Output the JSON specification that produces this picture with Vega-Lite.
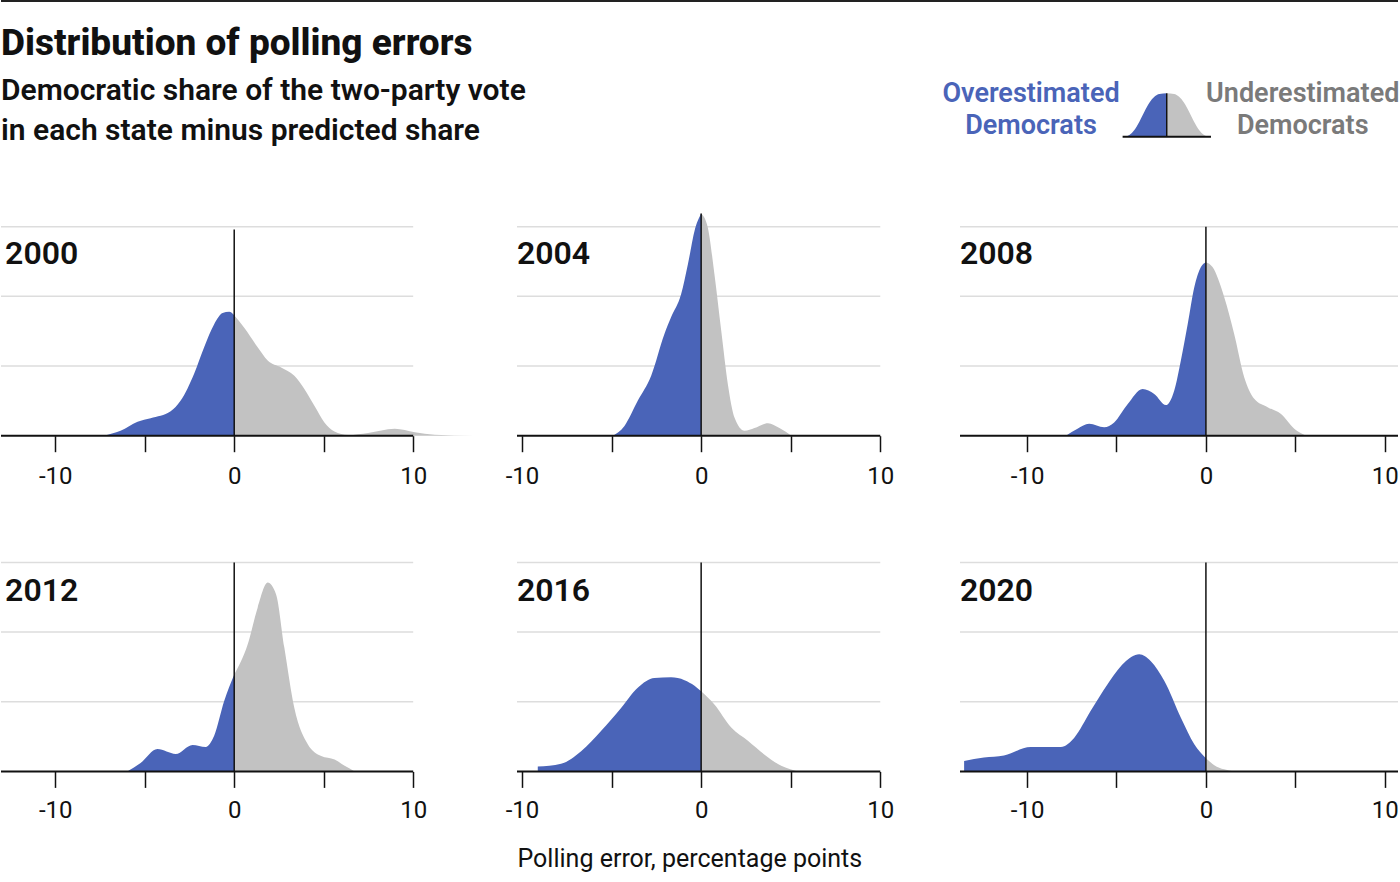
{
  "$schema": "https://vega.github.io/schema/vega-lite/v6.json",
  "padding": 0,
  "background": "white",
  "config": {
    "view": {"stroke": null},
    "font": "Roboto",
    "axis": {"labels": false, "ticks": false, "domain": false, "grid": false}
  },
  "datasets": {
    "levels": [{"level": 1}, {"level": 2}, {"level": 3}],
    "panels": [{"year": "2000"}, {"year": "2004"}, {"year": "2008"}, {"year": "2012"}, {"year": "2016"}, {"year": "2020"}],
    "legendcurve": [
      {"x": -2.8, "y": 0}, {"x": -2.54, "y": 0.04}, {"x": -2.2, "y": 0.154}, {"x": -1.86, "y": 0.346},
      {"x": -1.52, "y": 0.576}, {"x": -1.18, "y": 0.783}, {"x": -0.84, "y": 0.922}, {"x": -0.5, "y": 0.984},
      {"x": 0, "y": 1}, {"x": 0.5, "y": 0.984}, {"x": 0.84, "y": 0.922}, {"x": 1.18, "y": 0.783},
      {"x": 1.52, "y": 0.576}, {"x": 1.86, "y": 0.346}, {"x": 2.2, "y": 0.154}, {"x": 2.54, "y": 0.04}, {"x": 2.8, "y": 0}
    ],
    "curves": [
      {"year": "2000", "x": -7.3, "y": 0}, {"year": "2000", "x": -6.35, "y": 0.07}, {"year": "2000", "x": -5.4, "y": 0.2},
      {"year": "2000", "x": -4.67, "y": 0.25}, {"year": "2000", "x": -3.55, "y": 0.35}, {"year": "2000", "x": -3.0, "y": 0.5},
      {"year": "2000", "x": -2.24, "y": 0.89}, {"year": "2000", "x": -1.68, "y": 1.27}, {"year": "2000", "x": -1.12, "y": 1.6},
      {"year": "2000", "x": -0.65, "y": 1.76}, {"year": "2000", "x": -0.28, "y": 1.78}, {"year": "2000", "x": 0, "y": 1.73},
      {"year": "2000", "x": 0.56, "y": 1.55}, {"year": "2000", "x": 1.31, "y": 1.27}, {"year": "2000", "x": 1.87, "y": 1.08},
      {"year": "2000", "x": 2.62, "y": 0.98}, {"year": "2000", "x": 3.36, "y": 0.86}, {"year": "2000", "x": 3.92, "y": 0.67},
      {"year": "2000", "x": 4.48, "y": 0.43}, {"year": "2000", "x": 5.04, "y": 0.19}, {"year": "2000", "x": 5.6, "y": 0.06},
      {"year": "2000", "x": 6.36, "y": 0.01}, {"year": "2000", "x": 7.48, "y": 0.04}, {"year": "2000", "x": 8.97, "y": 0.1},
      {"year": "2000", "x": 10.09, "y": 0.05}, {"year": "2000", "x": 11.2, "y": 0.015}, {"year": "2000", "x": 13.4, "y": 0},

      {"year": "2004", "x": -4.93, "y": 0}, {"year": "2004", "x": -4.28, "y": 0.14}, {"year": "2004", "x": -3.54, "y": 0.5},
      {"year": "2004", "x": -2.79, "y": 0.86}, {"year": "2004", "x": -2.05, "y": 1.46}, {"year": "2004", "x": -1.68, "y": 1.7},
      {"year": "2004", "x": -1.12, "y": 2.03}, {"year": "2004", "x": -0.74, "y": 2.46}, {"year": "2004", "x": -0.37, "y": 2.94},
      {"year": "2004", "x": 0, "y": 3.19}, {"year": "2004", "x": 0.37, "y": 2.99}, {"year": "2004", "x": 0.74, "y": 2.32},
      {"year": "2004", "x": 1.12, "y": 1.51}, {"year": "2004", "x": 1.49, "y": 0.74}, {"year": "2004", "x": 1.86, "y": 0.26},
      {"year": "2004", "x": 2.42, "y": 0.07}, {"year": "2004", "x": 2.98, "y": 0.11}, {"year": "2004", "x": 3.73, "y": 0.18},
      {"year": "2004", "x": 4.37, "y": 0.11}, {"year": "2004", "x": 5.03, "y": 0},

      {"year": "2008", "x": -7.83, "y": 0}, {"year": "2008", "x": -7.18, "y": 0.1}, {"year": "2008", "x": -6.53, "y": 0.17},
      {"year": "2008", "x": -5.69, "y": 0.12}, {"year": "2008", "x": -5.13, "y": 0.19}, {"year": "2008", "x": -4.38, "y": 0.45},
      {"year": "2008", "x": -3.54, "y": 0.67}, {"year": "2008", "x": -2.89, "y": 0.6}, {"year": "2008", "x": -2.24, "y": 0.44},
      {"year": "2008", "x": -1.77, "y": 0.65}, {"year": "2008", "x": -1.4, "y": 1.08}, {"year": "2008", "x": -1.02, "y": 1.6},
      {"year": "2008", "x": -0.65, "y": 2.13}, {"year": "2008", "x": -0.28, "y": 2.42}, {"year": "2008", "x": 0, "y": 2.49},
      {"year": "2008", "x": 0.37, "y": 2.42}, {"year": "2008", "x": 1.02, "y": 1.99}, {"year": "2008", "x": 1.58, "y": 1.46},
      {"year": "2008", "x": 2.14, "y": 0.84}, {"year": "2008", "x": 2.7, "y": 0.53}, {"year": "2008", "x": 3.45, "y": 0.41},
      {"year": "2008", "x": 4.2, "y": 0.31}, {"year": "2008", "x": 4.94, "y": 0.1}, {"year": "2008", "x": 5.6, "y": 0},

      {"year": "2012", "x": -5.98, "y": 0}, {"year": "2012", "x": -5.23, "y": 0.12}, {"year": "2012", "x": -4.29, "y": 0.32},
      {"year": "2012", "x": -3.27, "y": 0.25}, {"year": "2012", "x": -2.33, "y": 0.38}, {"year": "2012", "x": -1.59, "y": 0.35},
      {"year": "2012", "x": -1.12, "y": 0.51}, {"year": "2012", "x": -0.56, "y": 1.01}, {"year": "2012", "x": 0, "y": 1.39},
      {"year": "2012", "x": 0.75, "y": 1.82}, {"year": "2012", "x": 1.31, "y": 2.35}, {"year": "2012", "x": 1.87, "y": 2.71},
      {"year": "2012", "x": 2.34, "y": 2.54}, {"year": "2012", "x": 2.8, "y": 1.78}, {"year": "2012", "x": 3.36, "y": 0.91},
      {"year": "2012", "x": 4.11, "y": 0.39}, {"year": "2012", "x": 4.86, "y": 0.22}, {"year": "2012", "x": 5.61, "y": 0.17},
      {"year": "2012", "x": 6.17, "y": 0.08}, {"year": "2012", "x": 6.73, "y": 0},

      {"year": "2016", "x": -9.12, "y": 0.07}, {"year": "2016", "x": -7.82, "y": 0.11}, {"year": "2016", "x": -6.7, "y": 0.29},
      {"year": "2016", "x": -5.59, "y": 0.58}, {"year": "2016", "x": -4.47, "y": 0.91}, {"year": "2016", "x": -3.54, "y": 1.2},
      {"year": "2016", "x": -2.61, "y": 1.34}, {"year": "2016", "x": -1.68, "y": 1.35}, {"year": "2016", "x": -0.93, "y": 1.31},
      {"year": "2016", "x": -0.37, "y": 1.23}, {"year": "2016", "x": 0, "y": 1.15}, {"year": "2016", "x": 0.74, "y": 0.96},
      {"year": "2016", "x": 1.68, "y": 0.63}, {"year": "2016", "x": 2.61, "y": 0.44}, {"year": "2016", "x": 3.54, "y": 0.24},
      {"year": "2016", "x": 4.47, "y": 0.08}, {"year": "2016", "x": 5.4, "y": 0},

      {"year": "2020", "x": -13.52, "y": 0.15}, {"year": "2020", "x": -12.41, "y": 0.2}, {"year": "2020", "x": -11.29, "y": 0.23},
      {"year": "2020", "x": -9.79, "y": 0.35}, {"year": "2020", "x": -8.86, "y": 0.35}, {"year": "2020", "x": -8.11, "y": 0.35},
      {"year": "2020", "x": -7.37, "y": 0.48}, {"year": "2020", "x": -6.44, "y": 0.87}, {"year": "2020", "x": -5.5, "y": 1.25},
      {"year": "2020", "x": -4.57, "y": 1.56}, {"year": "2020", "x": -3.73, "y": 1.68}, {"year": "2020", "x": -3.08, "y": 1.58},
      {"year": "2020", "x": -2.33, "y": 1.3}, {"year": "2020", "x": -1.4, "y": 0.77}, {"year": "2020", "x": -0.65, "y": 0.39},
      {"year": "2020", "x": 0, "y": 0.19}, {"year": "2020", "x": 0.47, "y": 0.09}, {"year": "2020", "x": 1.02, "y": 0.03},
      {"year": "2020", "x": 1.58, "y": 0}
    ]
  },
  "columns": 3,
  "bounds": "flush",
  "spacing": {"row": 126.7, "column": 0},
  "resolve": {"scale": {"x": "independent", "y": "independent"}},
  "concat": [
    {
      "width": 516, "height": 98.3,
      "layer": [
        {"data": {"values": [{"label": "Distribution of polling errors"}]},
         "mark": {"type": "rule", "color": "#222", "strokeWidth": 2},
         "encoding": {"x": {"datum": 0, "scale": {"domain": [0, 1]}, "axis": null}, "x2": {"datum": 1}, "y": {"datum": 1, "scale": {"domain": [0, 1]}, "axis": null}}},
        {"data": {"values": [{"label": "Distribution of polling errors"}]},
         "mark": {"type": "text", "align": "left", "baseline": "alphabetic", "font": "Roboto", "fontSize": 37, "fontWeight": 800, "color": "#111"},
         "encoding": {"x": {"datum": 0, "axis": null}, "y": {"datum": 0.4507, "axis": null}, "text": {"field": "label", "type": "nominal"}}},
        {"data": {"values": [{"label": ["Democratic share of the two-party vote", "in each state minus predicted share"]}]},
         "mark": {"type": "text", "align": "left", "baseline": "alphabetic", "font": "Roboto", "fontSize": 30, "fontWeight": 600, "lineHeight": 40, "color": "#111"},
         "encoding": {"x": {"datum": 0, "axis": null}, "y": {"datum": -0.0071, "axis": null}, "text": {"field": "label", "type": "nominal"}}}
      ]
    },
    {
      "width": 443, "height": 98.3,
      "data": {"values": [{"label": "rule"}]},
      "mark": {"type": "rule", "color": "#222", "strokeWidth": 2},
      "encoding": {"x": {"datum": 0, "scale": {"domain": [0, 1]}, "axis": null}, "x2": {"datum": 1}, "y": {"datum": 1, "scale": {"domain": [0, 1]}, "axis": null}}
    },
    {
      "width": 438, "height": 98.3,
      "layer": [
        {"data": {"values": [{"label": "rule"}]},
         "mark": {"type": "rule", "color": "#222", "strokeWidth": 2},
         "encoding": {"x": {"datum": -14.06, "axis": null}, "x2": {"datum": 15.73}, "y": {"datum": 3.127, "axis": null}}},
        {"data": {"name": "legendcurve"},
         "transform": [{"filter": "datum.x <= 0"}],
         "mark": {"type": "area", "color": "#4a64b8", "interpolate": "monotone"},
         "encoding": {
           "x": {"field": "x", "type": "quantitative", "scale": {"domain": [-14.06, 15.73], "nice": false, "zero": false}, "axis": null},
           "y": {"field": "y", "type": "quantitative", "scale": {"domain": [0.862, 3.127], "nice": false, "zero": false}, "axis": null}}},
        {"data": {"name": "legendcurve"},
         "transform": [{"filter": "datum.x >= 0"}],
         "mark": {"type": "area", "color": "#c2c2c2", "interpolate": "monotone"},
         "encoding": {
           "x": {"field": "x", "type": "quantitative", "axis": null},
           "y": {"field": "y", "type": "quantitative", "axis": null}}},
        {"data": {"values": [{"label": "rule"}]},
         "mark": {"type": "rule", "color": "#111", "strokeWidth": 2},
         "encoding": {"x": {"datum": -3.0, "axis": null}, "x2": {"datum": 3.01}, "y": {"datum": 0, "axis": null}}},
        {"data": {"values": [{"label": "rule"}]},
         "mark": {"type": "rule", "color": "#111", "strokeWidth": 1.5},
         "encoding": {"x": {"datum": 0, "axis": null}, "y": {"datum": 0, "axis": null}, "y2": {"datum": 1}}},
        {"data": {"values": [{"label": ["Overestimated", "Democrats"]}]},
         "mark": {"type": "text", "align": "center", "baseline": "alphabetic", "font": "Roboto", "fontSize": 27, "fontWeight": 600, "lineHeight": 32.3, "color": "#4a64b8"},
         "encoding": {"x": {"datum": -9.23, "axis": null}, "y": {"datum": 0.8065, "axis": null}, "text": {"field": "label", "type": "nominal"}}},
        {"data": {"values": [{"label": ["Underestimated", "Democrats"]}]},
         "mark": {"type": "text", "align": "center", "baseline": "alphabetic", "font": "Roboto", "fontSize": 27, "fontWeight": 600, "lineHeight": 32.3, "color": "#7a7a7a"},
         "encoding": {"x": {"datum": 9.25, "axis": null}, "y": {"datum": 0.8065, "axis": null}, "text": {"field": "label", "type": "nominal"}}}
      ]
    },
    {
      "width": 516, "height": 209,
      "resolve": {"axis": {"x": "independent"}},
      "layer": [
        {"data": {"name": "levels"}, "mark": {"type": "rule", "color": "#dddddd", "strokeWidth": 1.5},
         "encoding": {"x": {"datum": -13.03, "axis": null}, "x2": {"datum": 10}, "y": {"field": "level", "type": "quantitative", "axis": null}}},
        {"data": {"name": "curves"}, "transform": [{"filter": "datum.year === '2000' && datum.x <= 0"}],
         "mark": {"type": "area", "color": "#4a64b8", "interpolate": "monotone"},
         "encoding": {
           "x": {"field": "x", "type": "quantitative", "scale": {"domain": [-13.03, 15.8], "nice": false, "zero": false},
                 "axis": {"orient": "bottom", "values": [-10, -5, 0, 5, 10], "domain": false, "grid": false, "ticks": true, "labels": true, "tickSize": 16, "tickWidth": 1.5, "tickColor": "#111",
                          "labelExpr": "datum.value === -10 ? '-10\u00a0\u00a0\u00a0' : datum.value % 10 === 0 ? '' + datum.value : ''", "labelFont": "Roboto", "labelFontSize": 24, "labelColor": "#111",
                          "labelPadding": 13, "labelFlush": false, "labelOverlap": false, "title": null}},
           "y": {"field": "y", "type": "quantitative", "scale": {"domain": [0, 3], "nice": false, "zero": false}, "axis": null}}},
        {"data": {"name": "curves"}, "transform": [{"filter": "datum.year === '2000' && datum.x >= 0"}],
         "mark": {"type": "area", "color": "#c2c2c2", "interpolate": "monotone"},
         "encoding": {"x": {"field": "x", "type": "quantitative", "axis": null}, "y": {"field": "y", "type": "quantitative", "axis": null}}},
        {"data": {"name": "panels"}, "transform": [{"filter": "datum.year === '2000'"}],
         "mark": {"type": "rule", "color": "#111", "strokeWidth": 2},
         "encoding": {"x": {"datum": -13.03, "axis": null}, "x2": {"datum": 10}, "y": {"datum": 0, "axis": null}}},
        {"data": {"name": "panels"}, "transform": [{"filter": "datum.year === '2000'"}],
         "mark": {"type": "rule", "color": "#111", "strokeWidth": 1.5},
         "encoding": {"x": {"datum": 0, "axis": null}, "y": {"datum": 0, "axis": null}, "y2": {"datum": 2.96}}},
        {"data": {"name": "panels"}, "transform": [{"filter": "datum.year === '2000'"}],
         "mark": {"type": "text", "align": "left", "baseline": "alphabetic", "font": "Roboto", "fontSize": 32, "fontWeight": 600, "color": "#111"},
         "encoding": {"x": {"datum": -12.8, "axis": null}, "y": {"datum": 2.47, "axis": null}, "text": {"field": "year", "type": "nominal"}}}
      ]
    },
    {
      "width": 443, "height": 209,
      "resolve": {"axis": {"x": "independent"}},
      "layer": [
        {"data": {"name": "levels"}, "mark": {"type": "rule", "color": "#dddddd", "strokeWidth": 1.5},
         "encoding": {"x": {"datum": -10.28, "axis": null}, "x2": {"datum": 10}, "y": {"field": "level", "type": "quantitative", "axis": null}}},
        {"data": {"name": "curves"}, "transform": [{"filter": "datum.year === '2004' && datum.x <= 0"}],
         "mark": {"type": "area", "color": "#4a64b8", "interpolate": "monotone"},
         "encoding": {
           "x": {"field": "x", "type": "quantitative", "scale": {"domain": [-10.28, 14.45], "nice": false, "zero": false},
                 "axis": {"orient": "bottom", "values": [-10, -5, 0, 5, 10], "domain": false, "grid": false, "ticks": true, "labels": true, "tickSize": 16, "tickWidth": 1.5, "tickColor": "#111",
                          "labelExpr": "datum.value === -10 ? '-10\u00a0\u00a0\u00a0' : datum.value % 10 === 0 ? '' + datum.value : ''", "labelFont": "Roboto", "labelFontSize": 24, "labelColor": "#111",
                          "labelPadding": 13, "labelFlush": false, "labelOverlap": false, "title": null}},
           "y": {"field": "y", "type": "quantitative", "scale": {"domain": [0, 3], "nice": false, "zero": false}, "axis": null}}},
        {"data": {"name": "curves"}, "transform": [{"filter": "datum.year === '2004' && datum.x >= 0"}],
         "mark": {"type": "area", "color": "#c2c2c2", "interpolate": "monotone"},
         "encoding": {"x": {"field": "x", "type": "quantitative", "axis": null}, "y": {"field": "y", "type": "quantitative", "axis": null}}},
        {"data": {"name": "panels"}, "transform": [{"filter": "datum.year === '2004'"}],
         "mark": {"type": "rule", "color": "#111", "strokeWidth": 2},
         "encoding": {"x": {"datum": -10.28, "axis": null}, "x2": {"datum": 10}, "y": {"datum": 0, "axis": null}}},
        {"data": {"name": "panels"}, "transform": [{"filter": "datum.year === '2004'"}],
         "mark": {"type": "rule", "color": "#111", "strokeWidth": 1.5},
         "encoding": {"x": {"datum": 0, "axis": null}, "y": {"datum": 0, "axis": null}, "y2": {"datum": 3.19}}},
        {"data": {"name": "panels"}, "transform": [{"filter": "datum.year === '2004'"}],
         "mark": {"type": "text", "align": "left", "baseline": "alphabetic", "font": "Roboto", "fontSize": 32, "fontWeight": 600, "color": "#111"},
         "encoding": {"x": {"datum": -10.28, "axis": null}, "y": {"datum": 2.47, "axis": null}, "text": {"field": "year", "type": "nominal"}}}
      ]
    },
    {
      "width": 438, "height": 209,
      "resolve": {"axis": {"x": "independent"}},
      "layer": [
        {"data": {"name": "levels"}, "mark": {"type": "rule", "color": "#dddddd", "strokeWidth": 1.5},
         "encoding": {"x": {"datum": -13.75, "axis": null}, "x2": {"datum": 10.74}, "y": {"field": "level", "type": "quantitative", "axis": null}}},
        {"data": {"name": "curves"}, "transform": [{"filter": "datum.year === '2008' && datum.x <= 0"}],
         "mark": {"type": "area", "color": "#4a64b8", "interpolate": "monotone"},
         "encoding": {
           "x": {"field": "x", "type": "quantitative", "scale": {"domain": [-13.75, 10.74], "nice": false, "zero": false},
                 "axis": {"orient": "bottom", "values": [-10, -5, 0, 5, 10], "domain": false, "grid": false, "ticks": true, "labels": true, "tickSize": 16, "tickWidth": 1.5, "tickColor": "#111",
                          "labelExpr": "datum.value === -10 ? '-10\u00a0\u00a0\u00a0' : datum.value % 10 === 0 ? '' + datum.value : ''", "labelFont": "Roboto", "labelFontSize": 24, "labelColor": "#111",
                          "labelPadding": 13, "labelFlush": false, "labelOverlap": false, "title": null}},
           "y": {"field": "y", "type": "quantitative", "scale": {"domain": [0, 3], "nice": false, "zero": false}, "axis": null}}},
        {"data": {"name": "curves"}, "transform": [{"filter": "datum.year === '2008' && datum.x >= 0"}],
         "mark": {"type": "area", "color": "#c2c2c2", "interpolate": "monotone"},
         "encoding": {"x": {"field": "x", "type": "quantitative", "axis": null}, "y": {"field": "y", "type": "quantitative", "axis": null}}},
        {"data": {"name": "panels"}, "transform": [{"filter": "datum.year === '2008'"}],
         "mark": {"type": "rule", "color": "#111", "strokeWidth": 2},
         "encoding": {"x": {"datum": -13.75, "axis": null}, "x2": {"datum": 10.74}, "y": {"datum": 0, "axis": null}}},
        {"data": {"name": "panels"}, "transform": [{"filter": "datum.year === '2008'"}],
         "mark": {"type": "rule", "color": "#111", "strokeWidth": 1.5},
         "encoding": {"x": {"datum": 0, "axis": null}, "y": {"datum": 0, "axis": null}, "y2": {"datum": 3}}},
        {"data": {"name": "panels"}, "transform": [{"filter": "datum.year === '2008'"}],
         "mark": {"type": "text", "align": "left", "baseline": "alphabetic", "font": "Roboto", "fontSize": 32, "fontWeight": 600, "color": "#111"},
         "encoding": {"x": {"datum": -13.75, "axis": null}, "y": {"datum": 2.47, "axis": null}, "text": {"field": "year", "type": "nominal"}}}
      ]
    },
    {
      "width": 516, "height": 209,
      "resolve": {"axis": {"x": "independent"}},
      "layer": [
        {"data": {"name": "levels"}, "mark": {"type": "rule", "color": "#dddddd", "strokeWidth": 1.5},
         "encoding": {"x": {"datum": -13.03, "axis": null}, "x2": {"datum": 10}, "y": {"field": "level", "type": "quantitative", "axis": null}}},
        {"data": {"name": "curves"}, "transform": [{"filter": "datum.year === '2012' && datum.x <= 0"}],
         "mark": {"type": "area", "color": "#4a64b8", "interpolate": "monotone"},
         "encoding": {
           "x": {"field": "x", "type": "quantitative", "scale": {"domain": [-13.03, 15.8], "nice": false, "zero": false},
                 "axis": {"orient": "bottom", "values": [-10, -5, 0, 5, 10], "domain": false, "grid": false, "ticks": true, "labels": true, "tickSize": 16, "tickWidth": 1.5, "tickColor": "#111",
                          "labelExpr": "datum.value === -10 ? '-10\u00a0\u00a0\u00a0' : datum.value % 10 === 0 ? '' + datum.value : ''", "labelFont": "Roboto", "labelFontSize": 24, "labelColor": "#111",
                          "labelPadding": 11, "labelFlush": false, "labelOverlap": false, "title": null}},
           "y": {"field": "y", "type": "quantitative", "scale": {"domain": [0, 3], "nice": false, "zero": false}, "axis": null}}},
        {"data": {"name": "curves"}, "transform": [{"filter": "datum.year === '2012' && datum.x >= 0"}],
         "mark": {"type": "area", "color": "#c2c2c2", "interpolate": "monotone"},
         "encoding": {"x": {"field": "x", "type": "quantitative", "axis": null}, "y": {"field": "y", "type": "quantitative", "axis": null}}},
        {"data": {"name": "panels"}, "transform": [{"filter": "datum.year === '2012'"}],
         "mark": {"type": "rule", "color": "#111", "strokeWidth": 2},
         "encoding": {"x": {"datum": -13.03, "axis": null}, "x2": {"datum": 10}, "y": {"datum": 0, "axis": null}}},
        {"data": {"name": "panels"}, "transform": [{"filter": "datum.year === '2012'"}],
         "mark": {"type": "rule", "color": "#111", "strokeWidth": 1.5},
         "encoding": {"x": {"datum": 0, "axis": null}, "y": {"datum": 0, "axis": null}, "y2": {"datum": 3}}},
        {"data": {"name": "panels"}, "transform": [{"filter": "datum.year === '2012'"}],
         "mark": {"type": "text", "align": "left", "baseline": "alphabetic", "font": "Roboto", "fontSize": 32, "fontWeight": 600, "color": "#111"},
         "encoding": {"x": {"datum": -12.8, "axis": null}, "y": {"datum": 2.45, "axis": null}, "text": {"field": "year", "type": "nominal"}}}
      ]
    },
    {
      "width": 443, "height": 209,
      "resolve": {"axis": {"x": "independent"}},
      "layer": [
        {"data": {"name": "levels"}, "mark": {"type": "rule", "color": "#dddddd", "strokeWidth": 1.5},
         "encoding": {"x": {"datum": -10.28, "axis": null}, "x2": {"datum": 10}, "y": {"field": "level", "type": "quantitative", "axis": null}}},
        {"data": {"name": "curves"}, "transform": [{"filter": "datum.year === '2016' && datum.x <= 0"}],
         "mark": {"type": "area", "color": "#4a64b8", "interpolate": "monotone"},
         "encoding": {
           "x": {"field": "x", "type": "quantitative", "scale": {"domain": [-10.28, 14.45], "nice": false, "zero": false},
                 "axis": {"orient": "bottom", "values": [-10, -5, 0, 5, 10], "domain": false, "grid": false, "ticks": true, "labels": true, "tickSize": 16, "tickWidth": 1.5, "tickColor": "#111",
                          "labelExpr": "datum.value === -10 ? '-10\u00a0\u00a0\u00a0' : datum.value % 10 === 0 ? '' + datum.value : ''", "labelFont": "Roboto", "labelFontSize": 24, "labelColor": "#111",
                          "labelPadding": 11, "labelFlush": false, "labelOverlap": false,
                          "title": "Polling error, percentage points", "titleFont": "Roboto", "titleFontSize": 25, "titleFontWeight": "normal",
                          "titleColor": "#111", "titleAnchor": "start", "titlePadding": 24}},
           "y": {"field": "y", "type": "quantitative", "scale": {"domain": [0, 3], "nice": false, "zero": false}, "axis": null}}},
        {"data": {"name": "curves"}, "transform": [{"filter": "datum.year === '2016' && datum.x >= 0"}],
         "mark": {"type": "area", "color": "#c2c2c2", "interpolate": "monotone"},
         "encoding": {"x": {"field": "x", "type": "quantitative", "axis": null}, "y": {"field": "y", "type": "quantitative", "axis": null}}},
        {"data": {"name": "panels"}, "transform": [{"filter": "datum.year === '2016'"}],
         "mark": {"type": "rule", "color": "#111", "strokeWidth": 2},
         "encoding": {"x": {"datum": -10.28, "axis": null}, "x2": {"datum": 10}, "y": {"datum": 0, "axis": null}}},
        {"data": {"name": "panels"}, "transform": [{"filter": "datum.year === '2016'"}],
         "mark": {"type": "rule", "color": "#111", "strokeWidth": 1.5},
         "encoding": {"x": {"datum": 0, "axis": null}, "y": {"datum": 0, "axis": null}, "y2": {"datum": 3}}},
        {"data": {"name": "panels"}, "transform": [{"filter": "datum.year === '2016'"}],
         "mark": {"type": "text", "align": "left", "baseline": "alphabetic", "font": "Roboto", "fontSize": 32, "fontWeight": 600, "color": "#111"},
         "encoding": {"x": {"datum": -10.28, "axis": null}, "y": {"datum": 2.45, "axis": null}, "text": {"field": "year", "type": "nominal"}}}
      ]
    },
    {
      "width": 438, "height": 209,
      "resolve": {"axis": {"x": "independent"}},
      "layer": [
        {"data": {"name": "levels"}, "mark": {"type": "rule", "color": "#dddddd", "strokeWidth": 1.5},
         "encoding": {"x": {"datum": -13.75, "axis": null}, "x2": {"datum": 10.74}, "y": {"field": "level", "type": "quantitative", "axis": null}}},
        {"data": {"name": "curves"}, "transform": [{"filter": "datum.year === '2020' && datum.x <= 0"}],
         "mark": {"type": "area", "color": "#4a64b8", "interpolate": "monotone"},
         "encoding": {
           "x": {"field": "x", "type": "quantitative", "scale": {"domain": [-13.75, 10.74], "nice": false, "zero": false},
                 "axis": {"orient": "bottom", "values": [-10, -5, 0, 5, 10], "domain": false, "grid": false, "ticks": true, "labels": true, "tickSize": 16, "tickWidth": 1.5, "tickColor": "#111",
                          "labelExpr": "datum.value === -10 ? '-10\u00a0\u00a0\u00a0' : datum.value % 10 === 0 ? '' + datum.value : ''", "labelFont": "Roboto", "labelFontSize": 24, "labelColor": "#111",
                          "labelPadding": 11, "labelFlush": false, "labelOverlap": false, "title": null}},
           "y": {"field": "y", "type": "quantitative", "scale": {"domain": [0, 3], "nice": false, "zero": false}, "axis": null}}},
        {"data": {"name": "curves"}, "transform": [{"filter": "datum.year === '2020' && datum.x >= 0"}],
         "mark": {"type": "area", "color": "#c2c2c2", "interpolate": "monotone"},
         "encoding": {"x": {"field": "x", "type": "quantitative", "axis": null}, "y": {"field": "y", "type": "quantitative", "axis": null}}},
        {"data": {"name": "panels"}, "transform": [{"filter": "datum.year === '2020'"}],
         "mark": {"type": "rule", "color": "#111", "strokeWidth": 2},
         "encoding": {"x": {"datum": -13.75, "axis": null}, "x2": {"datum": 10.74}, "y": {"datum": 0, "axis": null}}},
        {"data": {"name": "panels"}, "transform": [{"filter": "datum.year === '2020'"}],
         "mark": {"type": "rule", "color": "#111", "strokeWidth": 1.5},
         "encoding": {"x": {"datum": 0, "axis": null}, "y": {"datum": 0, "axis": null}, "y2": {"datum": 3}}},
        {"data": {"name": "panels"}, "transform": [{"filter": "datum.year === '2020'"}],
         "mark": {"type": "text", "align": "left", "baseline": "alphabetic", "font": "Roboto", "fontSize": 32, "fontWeight": 600, "color": "#111"},
         "encoding": {"x": {"datum": -13.75, "axis": null}, "y": {"datum": 2.45, "axis": null}, "text": {"field": "year", "type": "nominal"}}}
      ]
    }
  ]
}
